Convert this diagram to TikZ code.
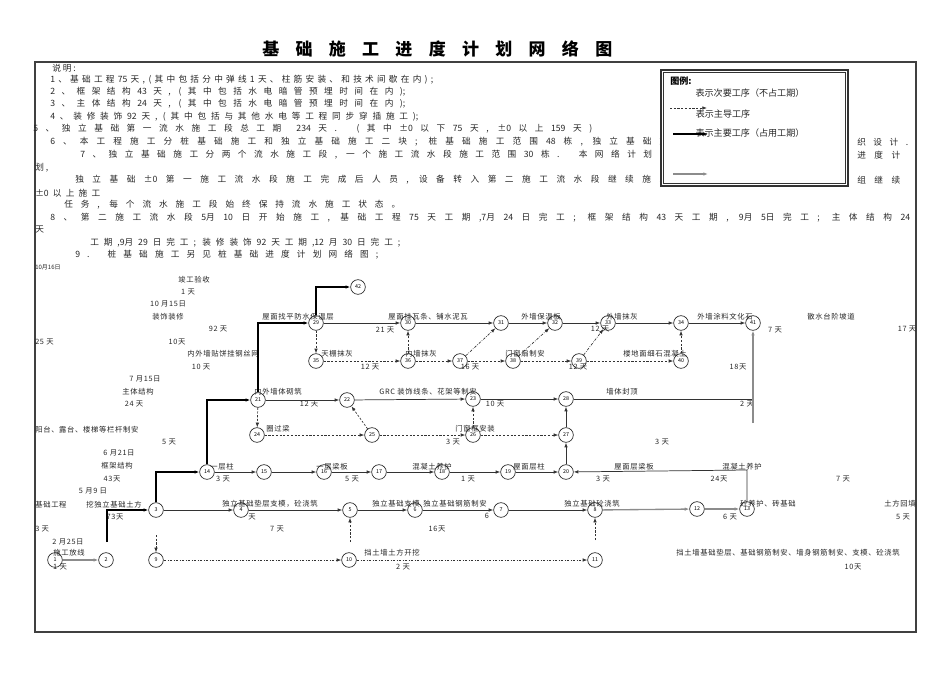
\documentclass[tikz,border=0pt]{standalone}
\usepackage{fontspec}
\setmainfont{Noto Sans CJK SC}
\usetikzlibrary{arrows.meta}
\tikzset{
 nd/.style={circle, draw=black!85, line width=0.5pt, minimum size=11pt, inner sep=0pt, font=\fontsize{4}{4}\selectfont},
 lbl/.style={inner sep=0pt, font=\fontsize{5.5}{6}\selectfont\addfontfeature{LetterSpace=9}, text=black!85},
 note/.style={inner sep=0pt, font=\fontsize{6.5}{7}\selectfont, text=black!85},
 legtxt/.style={inner sep=0pt, font=\fontsize{6.8}{7}\selectfont, text=black!85},
 tip/.style={-{Latex[length=3.5pt,width=2.6pt]}},
 mainln/.style={tip, line width=1.1pt, black},
 solidln/.style={tip, line width=0.55pt, black!80},
 grayln/.style={tip, line width=1pt, black!45},
 dashln/.style={tip, line width=0.5pt, black!80, dash pattern=on 1.6pt off 1.2pt},
 ddln/.style={tip, line width=0.5pt, black!80, dash pattern=on 2pt off 1pt on 0.5pt off 1pt},
}
\newcommand\mynote[5]{\node[note,anchor=west] (#1) at (#2,#4) {\makebox[\dimexpr(#3pt-#2pt)*3/4\relax][s]{#5}};}
\begin{document}
\begin{tikzpicture}[x=0.75pt,y=-0.75pt]
\useasboundingbox (0,0) rectangle (950,672);
% frame
\draw[black!75, line width=1pt] (35,62) rectangle (916,632);
% title
\node[font=\fontsize{12.75}{14}\selectfont\bfseries, inner sep=0, anchor=west] (title) at (262,49) {\makebox[262.5pt][s]{基 础 施 工 进 度 计 划 网 络 图}};
% notes
\node[note,anchor=west] (t0) at (52,68) {说 明 :};
\mynote{t1}{50}{433}{80}{1 、 基 础 工 程 75 天 , ( 其 中 包 括 分 中 弹 线 1 天 、 柱 筋 安 装 、 和 技 术 间 歇 在 内 ) ;}
\mynote{t2}{50}{405}{92}{2 、 框 架 结 构 43 天 , ( 其 中 包 括 水 电 暗 管 预 埋 时 间 在 内 );}
\mynote{t3}{50}{405}{104}{3 、 主 体 结 构 24 天 , ( 其 中 包 括 水 电 暗 管 预 埋 时 间 在 内 );}
\mynote{t4}{50}{418}{117}{4 、 装 修 装 饰 92 天 , ( 其 中 包 括 与 其 他 水 电 等 工 程 同 步 穿 插 施 工 );}
\mynote{t5}{33}{592}{129}{5 、 独 立 基 础 第 一 流 水 施 工 段 总 工 期 \ 234 天 . ( 其 中 ±0 以 下 75 天 , ±0 以 上 159 天 )}
\mynote{t6}{50}{668}{142}{6 、 本 工 程 施 工 分 桩 基 础 施 工 和 独 立 基 础 施 工 二 块 ; 桩 基 础 施 工 范 围 48 栋 , 独 立 基 础 施}
\mynote{t6b}{857}{908}{142}{织 设 计 .}
\mynote{t7}{80}{668}{155}{7 、 独 立 基 础 施 工 分 两 个 流 水 施 工 段 , 一 个 施 工 流 水 段 施 工 范 围 30 栋 . 本 网 络 计 划 图}
\mynote{t7b}{857}{900}{155}{进 度 计}
\node[note,anchor=west] (t7c) at (35,168) {划 ,};
\mynote{t8}{75}{668}{180}{独 立 基 础 ±0 第 一 施 工 流 水 段 施 工 完 成 后 人 员 , 设 备 转 入 第 二 施 工 流 水 段 继 续 施 工}
\mynote{t8b}{857}{900}{180}{组 继 续}
\mynote{t9}{35}{100}{193}{±0 以 上 施 工}
\mynote{t10}{64}{400}{205}{任 务 , 每 个 流 水 施 工 段 始 终 保 持 流 水 施 工 状 态 。}
\mynote{t11}{50}{910}{218}{8 、 第 二 施 工 流 水 段 5月 10 日 开 始 施 工 , 基 础 工 程 75 天 工 期 ,7月 24 日 完 工 ; 框 架 结 构 43 天 工 期 , 9月 5日 完 工 ; 主 体 结 构 24}
\node[note,anchor=west] (t12) at (35,230) {天};
\mynote{t13}{90}{400}{243}{工 期 ,9月 29 日 完 工 ; 装 修 装 饰 92 天 工 期 ,12 月 30 日 完 工 ;}
\mynote{t14}{75}{378}{255}{9 . 桩 基 础 施 工 另 见 桩 基 础 进 度 计 划 网 络 图 ;}
% legend
\draw[fill=white, draw=black!80, line width=0.8pt] (661,70) rectangle (848,186);
\draw[black!80, line width=0.4pt] (663.5,72.5) rectangle (845.5,183.5);
\node[font=\fontsize{6.8}{7}\selectfont\bfseries, anchor=west, inner sep=0] (lg0) at (670,81) {图例:};
\node[legtxt] (lg1) at (750,93) {表示次要工序（不占工期）};
\coordinate (lga1) at (670,108); \coordinate (lgb1) at (707,108);
\draw[dashln] (lga1) -- (lgb1);
\node[legtxt] (lg2) at (723,114) {表示主导工序};
\node[legtxt] (lg3) at (750,133) {表示主要工序（占用工期）};
\coordinate (lga2) at (673,134); \coordinate (lgb2) at (708,134);
\draw[mainln] (lga2) -- (lgb2);
\coordinate (lga3) at (673,174); \coordinate (lgb3) at (708,174);
\draw[grayln] (lga3) -- (lgb3);
% left column labels
\node[lbl,anchor=west,font=\fontsize{4.5}{5}\selectfont] (la1) at (35,267) {10月16日};
\node[lbl] (la2) at (194,280) {竣工验收};
\node[lbl] (la3) at (188,292) {1 天};
\node[lbl] (la4) at (168,304) {10 月15日};
\node[lbl] (la5) at (168,317) {装饰装修};
\node[lbl] (la6) at (218,329) {92 天};
\node[lbl,anchor=west] (la7) at (35,342) {25 天};
\node[lbl] (la8) at (177,342) {10天};
\node[lbl] (la9) at (223,354) {内外墙贴饼挂钢丝网};
\node[lbl] (la10) at (201,367) {10 天};
\node[lbl] (la11) at (145,379) {7 月15日};
\node[lbl] (la12) at (138,392) {主体结构};
\node[lbl] (la13) at (134,404) {24 天};
\node[lbl,anchor=west] (la14) at (35,430) {阳台、露台、楼梯等栏杆制安};
\node[lbl] (la15) at (169,442) {5 天};
\node[lbl] (la16) at (119,453) {6 月21日};
\node[lbl] (la17) at (117,466) {框架结构};
\node[lbl] (la18) at (112,479) {43天};
\node[lbl] (la19) at (93,491) {5 月9 日};
\node[lbl,anchor=west] (la20) at (35,505) {基础工程};
\node[lbl] (la21) at (114,505) {挖独立基础土方};
\node[lbl] (la22) at (115,517) {73天};
\node[lbl,anchor=west] (la23) at (35,529) {3 天};
\node[lbl] (la24) at (68,542) {2 月25日};
\node[lbl] (la25) at (69,553) {施工放线};
\node[lbl] (la26) at (60,567) {1 天};
% nodes
\foreach \n/\x/\y in {1/55/560, 2/106/560, 3/156/510, 4/241/510, 5/350/510, 6/415/510, 7/501/510, 8/595/510, 9/156/560, 10/349/560, 11/595/560, 12/697/509, 13/747/509, 14/207/472, 15/264/472, 16/324/472, 17/379/472, 18/442/472, 19/508/472, 20/566/472, 21/258/400, 22/347/400, 23/473/399, 24/257/435, 25/372/435, 26/473/435, 27/566/435, 28/566/399, 29/316/323, 30/408/323, 31/501/323, 32/555/323, 33/608/323, 34/681/323, 35/316/361, 36/408/361, 37/460/361, 38/513/361, 39/579/361, 40/681/361, 41/753/323, 42/358/287}
  \node[nd] (n\n) at (\x,\y) {\n};
% network labels
\node[lbl] (lb1) at (298,317) {屋面找平防水保温层};
\node[lbl] (lb2) at (385,330) {21 天};
\node[lbl] (lb3) at (428,317) {屋面挂瓦条、铺水泥瓦};
\node[lbl] (lb4) at (541,317) {外墙保温板};
\node[lbl] (lb5) at (622,317) {外墙抹灰};
\node[lbl] (lb6) at (600,329) {12 天};
\node[lbl] (lb7) at (725,317) {外墙涂料文化石};
\node[lbl] (lb8) at (775,330) {7 天};
\node[lbl] (lb9) at (831,317) {散水台阶坡道};
\node[lbl] (lb10) at (907,329) {17 天};
\node[lbl] (lb11) at (337,354) {天棚抹灰};
\node[lbl] (lb12) at (370,367) {12 天};
\node[lbl] (lb13) at (421,354) {内墙抹灰};
\node[lbl] (lb14) at (470,367) {16 天};
\node[lbl] (lb15) at (525,354) {门窗扇制安};
\node[lbl] (lb16) at (578,367) {12 天};
\node[lbl] (lb17) at (655,354) {楼地面细石混凝土};
\node[lbl] (lb18) at (738,367) {18天};
\node[lbl] (lb19) at (278,392) {内外墙体砌筑};
\node[lbl] (lb20) at (309,404) {12 天};
\node[lbl] (lb21) at (428,392) {GRC 装饰线条、花架等制安};
\node[lbl] (lb22) at (495,404) {10 天};
\node[lbl] (lb23) at (622,392) {墙体封顶};
\node[lbl] (lb24) at (747,404) {2 天};
\node[lbl] (lb25) at (278,429) {圈过梁};
\node[lbl] (lb26) at (475,429) {门窗框安装};
\node[lbl] (lb27) at (453,442) {3 天};
\node[lbl] (lb28) at (662,442) {3 天};
\node[lbl] (lb29) at (222,467) {一层柱};
\node[lbl] (lb30) at (223,479) {3 天};
\node[lbl] (lb31) at (332,467) {一层梁板};
\node[lbl] (lb32) at (352,479) {5 天};
\node[lbl] (lb33) at (432,467) {混凝土养护};
\node[lbl] (lb34) at (468,479) {1 天};
\node[lbl] (lb35) at (529,467) {屋面层柱};
\node[lbl] (lb36) at (634,467) {屋面层梁板};
\node[lbl] (lb37) at (603,479) {3 天};
\node[lbl] (lb38) at (742,467) {混凝土养护};
\node[lbl] (lb39) at (719,479) {24天};
\node[lbl] (lb40) at (843,479) {7 天};
\node[lbl] (lb41) at (270,504) {独立基础垫层支模，砼浇筑};
\node[lbl] (lb42) at (252,517) {天};
\node[lbl] (lb43) at (277,529) {7 天};
\node[lbl] (lb44) at (396,504) {独立基础支模};
\node[lbl] (lb45) at (455,504) {独立基础钢筋制安};
\node[lbl] (lb46) at (487,516) {6};
\node[lbl] (lb47) at (437,529) {16天};
\node[lbl] (lb48) at (592,504) {独立基础砼浇筑};
\node[lbl] (lb49) at (768,504) {砼养护、砖基础};
\node[lbl] (lb50) at (900,504) {土方回填};
\node[lbl] (lb51) at (903,517) {5 天};
\node[lbl] (lb52) at (730,517) {6 天};
\node[lbl] (lb53) at (392,553) {挡土墙土方开挖};
\node[lbl] (lb54) at (403,567) {2 天};
\node[lbl] (lb55) at (788,553) {挡土墙基础垫层、基础钢筋制安、墙身钢筋制安、支模、砼浇筑};
\node[lbl] (lb56) at (853,567) {10天};
% main (thick) connectors
\coordinate (c2) at (107,542);
\draw[mainln] (c2) |- (n3);
\draw[mainln] (n3) |- (n14);
\draw[mainln] (n14) |- (n21);
\draw[mainln] (n21) |- (n29);
\draw[mainln] (n29) |- (n42);
% solid connectors
\draw[grayln] (n1) -- (n2);
\foreach \a/\b in {3/4,4/5,5/6,6/7,7/8,14/15,15/16,16/17,17/18,18/19,19/20,20/27,27/28,21/22,22/23,23/28,29/30,30/31,31/32,32/33,33/34,34/41}
  \draw[solidln] (n\a) -- (n\b);
\draw[grayln] (n8) -- (n12);
\draw[grayln] (n12) -- (n13);
\coordinate (c13) at (747,470);
\draw[solidln] (n13) -- (c13) -- (n20);
\coordinate (c28r) at (753,399);
\draw[solidln,-] (n28) -- (c28r);
\coordinate (c41b) at (753,423);
\draw[grayln] (c41b) -- (n41);
% dashed connectors
\foreach \a/\b in {21/24,24/25,25/22,25/26,26/23,26/27,29/35,35/36,36/30,36/37,37/38,38/39,39/40,40/34}
  \draw[dashln] (n\a) -- (n\b);
\foreach \a/\b in {37/31,38/32,39/33,9/10,10/11}
  \draw[ddln] (n\a) -- (n\b);
\coordinate (c3d) at (156,535);
\draw[dashln] (c3d) -- (n9);
\coordinate (c5d) at (350,542);
\draw[dashln] (c5d) -- (n5);
\coordinate (c8d) at (595,540);
\draw[dashln] (c8d) -- (n8);
\end{tikzpicture}
\end{document}
